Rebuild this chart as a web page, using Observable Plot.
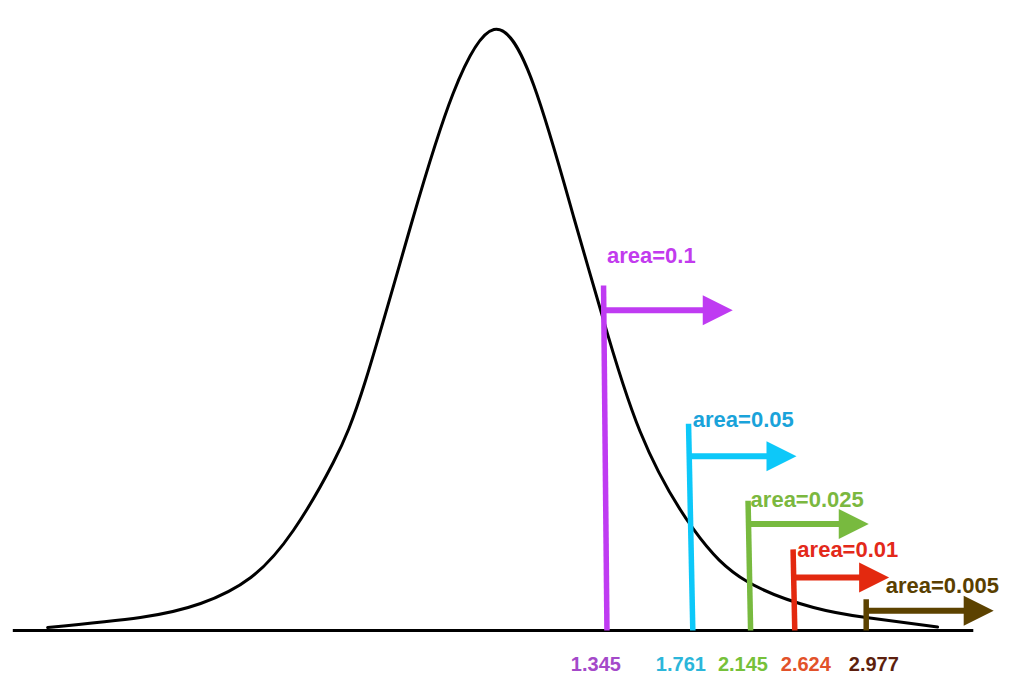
<!DOCTYPE html>
<html>
<head>
<meta charset="utf-8">
<script src="https://cdn.jsdelivr.net/npm/d3@7"></script>
<script src="https://cdn.jsdelivr.net/npm/@observablehq/plot@0.6"></script>
<style>
  html, body { margin: 0; padding: 0; background: #ffffff; }
  #chart svg { display: block; }
</style>
</head>
<body>
<div id="chart"></div>
<script>
// Schematic t-distribution curve (x: schematic t units, y: relative height 0..100)
const curveT = [-5.21, -4.12, -3.41, -2.82, -2.32, -1.85, -1.47, -0.92, -0.44, 0.04,
                0.51, 0.98, 1.29, 1.76, 2.39, 3.02, 3.80, 4.42, 5.26];
const curveH = [0.5, 2.16, 4.49, 8.82, 16.64, 27.95, 41.6, 68.22, 89.35, 100,
                90.68, 68.72, 53.58, 33.11, 16.81, 8.15, 3.83, 2.16, 0.58];

// Baseline extent
const axisExtent = [-5.62, 5.68];

// Critical values (df = 14) and upper-tail areas
const criticalLabels = ["1.345", "1.761", "2.145", "2.624", "2.977"];
const areaLabels = ["area=0.1", "area=0.05", "area=0.025", "area=0.01", "area=0.005"];

// Where each marker is drawn on the schematic axis
const lineTopX = [1.33, 2.33, 3.03, 3.56, 4.42];
const lineBottomX = [1.37, 2.38, 3.06, 3.58, 4.42];
const lineTopH = [57.4, 34.4, 21.6, 13.5, 5.2];
const arrowH = [53.3, 29.0, 17.7, 8.8, 3.3];
const arrowTipX = [2.85, 3.60, 4.45, 4.69, 5.92];
const areaLabelX = [1.37, 2.38, 3.06, 3.61, 4.65];
const areaLabelH = [61.1, 33.9, 20.5, 12.2, 6.3];
const valueLabelX = [1.24, 2.24, 2.97, 3.71, 4.51];
const valueLabelH = -6.8;

// Colours
const lineColors = ["#BF3BF2", "#0DC8F9", "#78BA3F", "#E3290F", "#5C4200"];
const areaColors = ["#C23BEE", "#1AA3DA", "#7BB83F", "#E3291A", "#5A3F00"];
const valueColors = ["#A449C9", "#2BB6DA", "#76C13A", "#E2522A", "#5C1F0E"];

const curve = curveT.map((t, i) => ({t, h: curveH[i]}));
const markers = criticalLabels.map((v, i) => ({
  value: v, area: areaLabels[i],
  x1: lineTopX[i], x2: lineBottomX[i], top: lineTopH[i],
  ay: arrowH[i], tip: arrowTipX[i],
  lx: areaLabelX[i], ly: areaLabelH[i], vx: valueLabelX[i],
  lc: lineColors[i], ac: areaColors[i], vc: valueColors[i]
}));

// Filled arrowhead pointing right, tip at the origin
const arrowHead = {
  draw(context) {
    context.moveTo(0, 0);
    context.lineTo(-30, -15);
    context.lineTo(-30, 15);
    context.closePath();
  }
};

const chart = Plot.plot({
  width: 1024,
  height: 698,
  marginLeft: 65,
  marginRight: 109,
  marginTop: 29,
  marginBottom: 68,
  x: {domain: [-5, 5], axis: null},
  y: {domain: [0, 100], axis: null},
  style: {background: "#ffffff", fontFamily: "'Liberation Sans', Arial, Helvetica, sans-serif"},
  marks: [
    Plot.link([{a: axisExtent[0], b: axisExtent[1]}], {x1: "a", x2: "b", y1: 0, y2: 0, stroke: "#000", strokeWidth: 3}),
    Plot.line(curve, {x: "t", y: "h", curve: "natural", stroke: "#000", strokeWidth: 3}),
    Plot.link(markers, {x1: "x1", x2: "x2", y1: "top", y2: 0, stroke: "lc", strokeWidth: 5.5}),
    Plot.link(markers, {x1: "x1", x2: d => d.tip - 0.25, y1: "ay", y2: "ay", stroke: "lc", strokeWidth: 6}),
    Plot.dot(markers, {x: "tip", y: "ay", symbol: arrowHead, fill: "lc", stroke: "none", r: 10}),
    Plot.text(markers, {x: "lx", y: "ly", text: "area", fill: "ac", textAnchor: "start", lineAnchor: "bottom",
      fontSize: 22, fontWeight: "bold", style: "letter-spacing:0.6px"}),
    Plot.text(markers, {x: "vx", y: valueLabelH, text: "value", fill: "vc", textAnchor: "middle", lineAnchor: "bottom",
      fontSize: 20, fontWeight: "bold"})
  ]
});

document.getElementById("chart").appendChild(chart);
</script>
</body>
</html>
